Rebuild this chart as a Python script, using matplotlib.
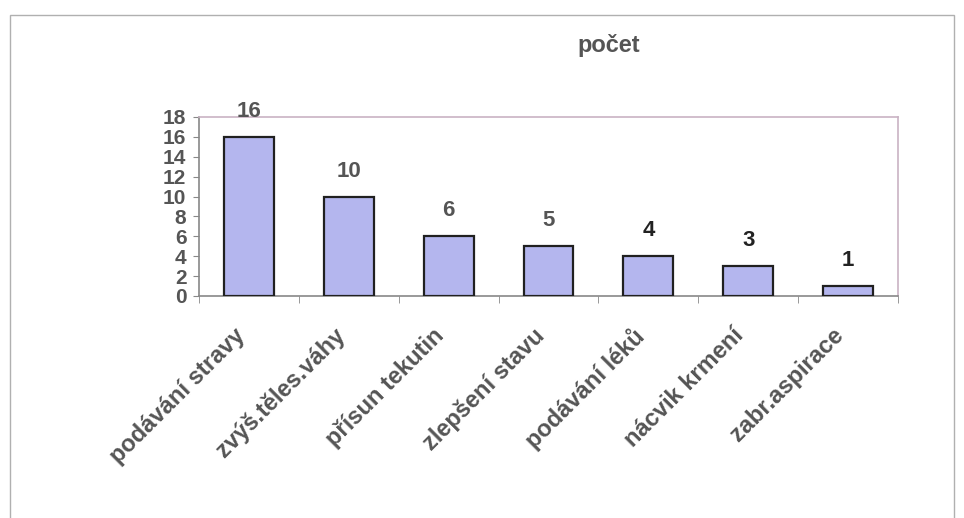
import numpy as np
import matplotlib.pyplot as plt
from matplotlib.patches import Rectangle
from matplotlib.transforms import ScaledTranslation

categories = ["podávání stravy", "zvýš.těles.váhy", "přísun tekutin", "zlepšení stavu",
              "podávání léků", "nácvik krmení", "zabr.aspirace"]
values = [16, 10, 6, 5, 4, 3, 1]
label_colors = ["#555555", "#555555", "#555555", "#555555", "#222222", "#222222", "#222222"]
title = "počet"

plt.rcParams['font.family'] = ['Liberation Sans', 'DejaVu Sans']

fig = plt.figure(figsize=(9.64, 5.18), dpi=100)
ax = fig.add_axes([0.2064, 0.4286, 0.7251, 0.3456])

# outer frame round the whole chart
fig.patches.append(Rectangle((0.010, -0.05), 0.980, 1.021, transform=fig.transFigure,
                             fill=False, edgecolor="#b0b0b0", linewidth=1.0))

x = np.arange(len(categories))
ax.bar(x, values, width=0.5, color="#b4b6ee", edgecolor="#202020", linewidth=1.6, zorder=3)

for xi, v, c in zip(x, values, label_colors):
    ax.text(xi, v + 1.5, str(v), ha="center", va="bottom", fontsize=16,
            fontweight="bold", color=c)

ax.set_xlim(-0.5, len(categories) - 0.5)
ax.set_ylim(0, 18)
ax.set_yticks(np.arange(0, 19, 2))
ax.set_yticklabels([str(t) for t in range(0, 19, 2)], fontsize=15, fontweight="bold", color="#555555")
ax.tick_params(axis="y", length=4, color="#888888", pad=5)

ax.set_xticks(x)
ax.set_xticklabels(categories, rotation=45, ha="right", rotation_mode="anchor",
                   fontsize=17, fontweight="bold", color="#555555")
ax.tick_params(axis="x", which="major", length=0, pad=20)
shift = ScaledTranslation(-16 / 100, 0, fig.dpi_scale_trans)
for lbl in ax.get_xticklabels():
    lbl.set_transform(lbl.get_transform() + shift)
ax.set_xticks(np.arange(-0.5, len(categories), 1), minor=True)
ax.tick_params(axis="x", which="minor", length=5, color="#888888")

for side in ["left", "bottom"]:
    ax.spines[side].set_color("#888888")
    ax.spines[side].set_linewidth(1.2)
for side in ["top", "right"]:
    ax.spines[side].set_color("#c9b3c3")
    ax.spines[side].set_linewidth(1.2)

fig.text(0.632, 0.913, title, ha="center", va="center", fontsize=17,
         fontweight="bold", color="#555555")

fig.savefig("out.png", dpi=100)
